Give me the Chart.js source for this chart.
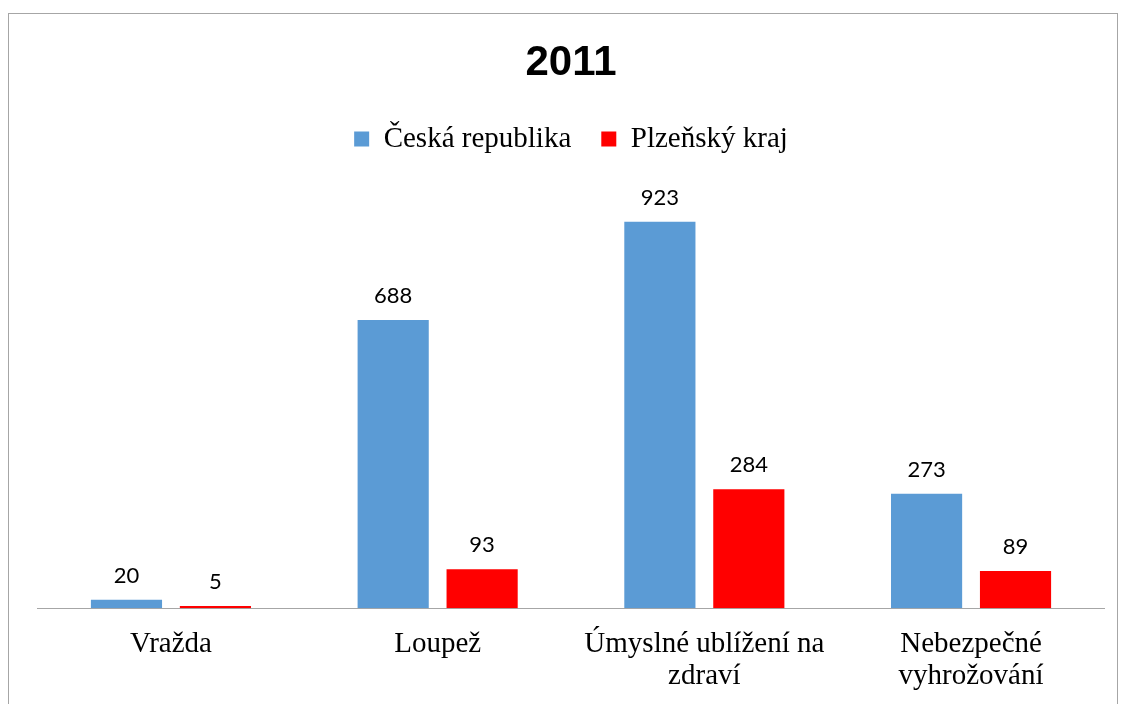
<!DOCTYPE html>
<html>
<head>
<meta charset="utf-8">
<script src="https://cdn.jsdelivr.net/npm/chart.js@4"></script>
<style>
  html, body { margin: 0; padding: 0; background: #fff; }
  #wrap { position: relative; width: 1122px; height: 704px; overflow: hidden; }
  #frame { position: absolute; left: 8px; top: 13px; width: 1110px; height: 720px; border: 1px solid #a6a6a6; box-sizing: border-box; }
  canvas { position: absolute; left: 0; top: 0; }
</style>
</head>
<body>
<div id="wrap">
  <div id="frame"></div>
  <canvas id="chart" width="1122" height="704"></canvas>
</div>
<script>
// data
const categories = [["Vražda"], ["Loupež"], ["Úmyslné ublížení na", "zdraví"], ["Nebezpečné", "vyhrožování"]];
const ceskaRepublika = [20, 688, 923, 273];
const plzenskyKraj = [5, 93, 284, 89];
const seriesNames = ["Česká republika", "Plzeňský kraj"];
const chartTitle = "2011";

// extra room below the legend, like the original
const legendGap = {
    id: "legendGap",
    beforeInit(chart) {
        const fit = chart.legend.fit;
        chart.legend.fit = function() {
            fit.call(this);
            this.height += 26;
        };
    }
};

// draw the value above every bar
const valueLabels = {
    id: "valueLabels",
    afterDatasetsDraw(chart) {
        const ctx = chart.ctx;
        ctx.save();
        ctx.font = "22px Lato";
        ctx.fillStyle = "#000";
        ctx.textAlign = "center";
        ctx.textBaseline = "alphabetic";
        chart.data.datasets.forEach((ds, i) => {
            chart.getDatasetMeta(i).data.forEach((bar, j) => {
                ctx.fillText(String(ds.data[j]), bar.x, bar.y - 17);
            });
        });
        ctx.restore();
    }
};

const ctx = document.getElementById("chart").getContext("2d");
new Chart(ctx, {
    type: "bar",
    data: {
        labels: categories,
        datasets: [
            { label: seriesNames[0], data: ceskaRepublika, backgroundColor: "#5B9BD5" },
            { label: seriesNames[1], data: plzenskyKraj, backgroundColor: "#FF0000" }
        ]
    },
    options: {
        responsive: false,
        animation: false,
        layout: { padding: { left: 37.6, right: 17.6, top: 0, bottom: -9 } },
        datasets: { bar: { categoryPercentage: 0.667, barPercentage: 0.8 } },
        plugins: {
            title: {
                display: true,
                text: chartTitle,
                color: "#000",
                font: { family: "Liberation Sans", size: 42, weight: "bold", lineHeight: 1.2 },
                padding: { top: 38, bottom: 6 }
            },
            legend: {
                display: true,
                labels: {
                    color: "#000",
                    font: { family: "Liberation Serif", size: 29 },
                    boxWidth: 15,
                    boxHeight: 15,
                    padding: 30
                }
            },
            tooltip: { enabled: false }
        },
        scales: {
            x: {
                grid: { display: false, drawTicks: false },
                border: { display: true, color: "#a6a6a6", width: 1 },
                ticks: {
                    color: "#000",
                    font: { family: "Liberation Serif", size: 29, lineHeight: 1.1 },
                    padding: 20.5,
                    maxRotation: 0,
                    autoSkip: false
                }
            },
            y: {
                display: false,
                min: 0,
                max: 1000
            }
        }
    },
    plugins: [legendGap, valueLabels]
});
</script>
</body>
</html>
